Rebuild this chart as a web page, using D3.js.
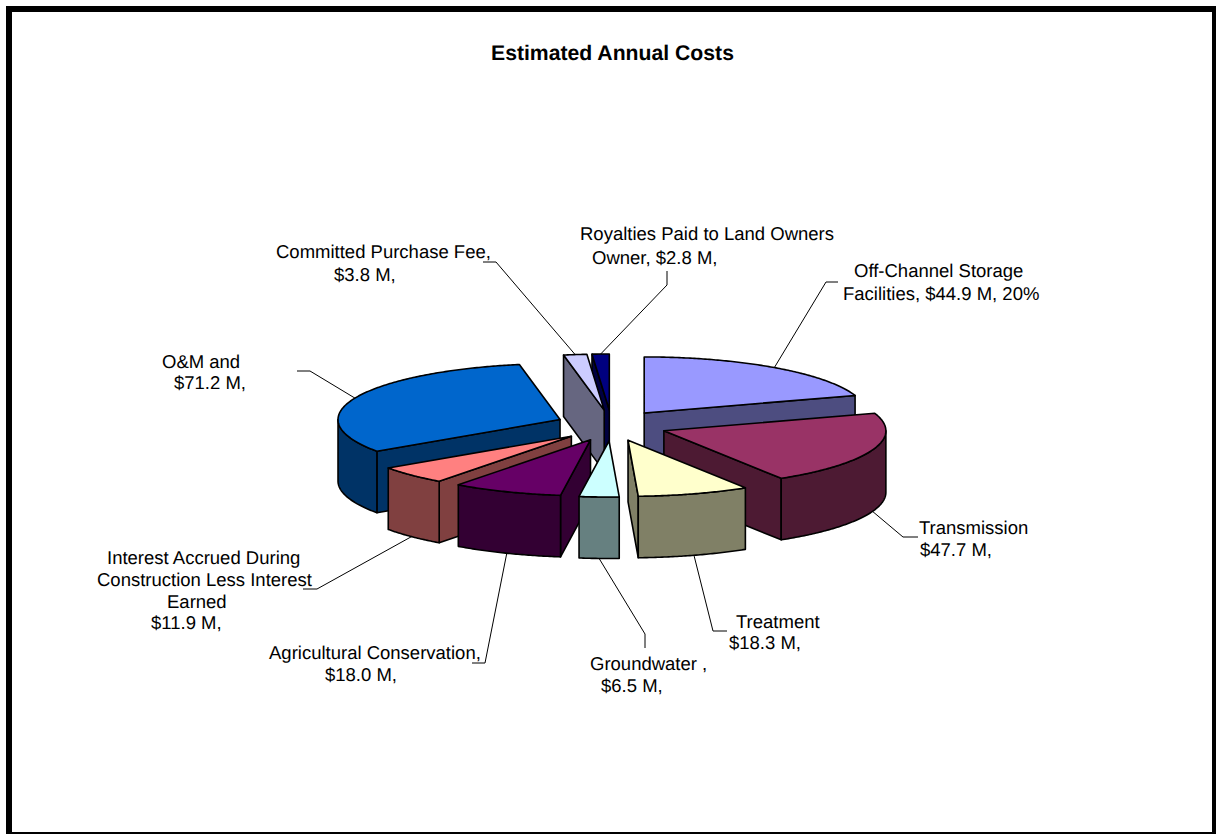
<!DOCTYPE html>
<html>
<head>
<meta charset="utf-8">
<title>Estimated Annual Costs</title>
<script src="https://cdn.jsdelivr.net/npm/d3@7"></script>
<style>
  html, body { margin: 0; padding: 0; background: #fff; overflow: hidden; }
  svg { display: block; }
  text { font-family: "Liberation Sans", Arial, sans-serif; fill: #000; text-rendering: geometricPrecision; }
</style>
</head>
<body>
<svg id="chart" width="1216" height="834"></svg>
<script>
// Annual cost components, in $ millions, clockwise from twelve o'clock
const categories = [
  "Off-Channel Storage", "Transmission", "Treatment", "Groundwater",
  "Agricultural Conservation", "Interest Accrued", "O&M", "Committed Purchase Fee", "Royalties"
];
const costs = [44.9, 47.7, 18.3, 6.5, 18.0, 11.9, 71.2, 3.8, 2.8];

// Label text above the value line
const labelNames = [
  ["Off-Channel Storage", "Facilities, "],
  ["Transmission", ""],
  ["Treatment", ""],
  ["Groundwater ,", ""],
  ["Agricultural Conservation,", ""],
  ["Interest Accrued During", "Construction Less Interest", "Earned", ""],
  ["O&M and", ""],
  ["Committed Purchase Fee,", ""],
  ["Royalties Paid to Land Owners", "Owner, "]
];

// Styling
const topColors  = ["#9999FF", "#993366", "#FFFFCC", "#CCFFFF", "#660066", "#FF8080", "#0066CC", "#CCCCFF", "#000080"];
const wallColors = ["#4D4D80", "#4D1A33", "#808066", "#668080", "#330033", "#804040", "#003366", "#666680", "#000040"];

// Label layout: left edge and baseline for each text line
const labelX = [
  [854, 843], [919, 920], [736, 729], [590, 601], [269, 325],
  [107, 97, 167, 151], [162, 174], [276, 334], [580, 592]
];
const labelY = [
  [277, 300], [534, 556], [628, 649], [670, 692], [659, 681],
  [564, 586, 608, 629], [368, 389], [258, 281], [240, 264]
];
// Leader lines: label end and elbow; the third point comes from the slice
const leaderEnds = [
  [[838, 282], [826, 282]], [[918, 537], [903, 537]], [[727, 631], [713, 631]],
  [[645, 648], [645, 634]], [[472, 663], [485, 663]], [[303, 589], [317, 589]],
  [[297, 371], [310, 371]], [[483, 262], [496, 262]], [[667, 271], [667, 285]]
];

// Painter's order, back to front
const drawOrder = [0, 6, 8, 7, 5, 4, 3, 1, 2];

// Tilted disc: unit-circle coordinates mapped to the screen ellipse
const cx = 611.5, cy = 425.5, rx = 222, ry = 56, depth = 61.5;
const explodeX = 0.251, explodeY = 0.277;
const xScale = d3.scaleLinear().domain([-1, 1]).range([cx - rx, cx + rx]);
const yScale = d3.scaleLinear().domain([-1, 1]).range([cy + ry, cy - ry]);

const slices = d3.pie().sort(null).startAngle(0).endAngle(2 * Math.PI)(costs);
const line = d3.line();
const svg = d3.select("#chart");

// Screen point of a slice at polar (angle, radius), optionally on the bottom face
function pt(s, angle, r, drop = 0) {
  const mid = (s.startAngle + s.endAngle) / 2;
  return [
    xScale(explodeX * Math.sin(mid) + r * Math.sin(angle)),
    yScale(explodeY * Math.cos(mid) + r * Math.cos(angle)) + drop
  ];
}

function arcPoints(s, a0, a1, drop = 0) {
  const n = Math.max(2, Math.ceil((a1 - a0) / 0.01));
  return d3.range(n + 1).map(i => pt(s, a0 + (a1 - a0) * i / n, 1, drop));
}

function radialWall(s, angle) {
  return [pt(s, 0, 0), pt(s, angle, 1), pt(s, angle, 1, depth), pt(s, 0, 0, depth)];
}

// Page frame
svg.append("rect")
  .attr("x", 9).attr("y", 9).attr("width", 1206).attr("height", 826)
  .attr("fill", "#fff").attr("stroke", "#000").attr("stroke-width", 6);

// Title
svg.append("text")
  .attr("x", 491).attr("y", 60)
  .attr("font-size", 21.2).attr("font-weight", "bold")
  .text("Estimated Annual Costs");

// Slices
const faceStyle = sel => sel
  .attr("stroke", "#000").attr("stroke-width", 1.6).attr("stroke-linejoin", "round");

drawOrder.forEach(i => {
  const s = slices[i];
  const g = svg.append("g").attr("class", "slice").attr("data-name", categories[i]);
  const a0 = s.startAngle, a1 = s.endAngle;
  const walls = [];

  // Cut faces turned toward the viewer
  if (Math.sin(a1) > 0) walls.push(radialWall(s, a1));
  if (Math.sin(a0) < 0) walls.push(radialWall(s, a0));

  // Rim, visible only along the front half of the disc
  const f0 = Math.max(a0, Math.PI / 2), f1 = Math.min(a1, 3 * Math.PI / 2);
  if (f1 > f0) walls.push(arcPoints(s, f0, f1).concat(arcPoints(s, f0, f1, depth).reverse()));

  walls.forEach(w => {
    g.append("path").attr("d", line(w) + "Z").attr("fill", wallColors[i]).call(faceStyle);
  });

  g.append("path")
    .attr("d", line([pt(s, 0, 0)].concat(arcPoints(s, a0, a1))) + "Z")
    .attr("fill", topColors[i]).call(faceStyle);
});

// Leader lines run from the middle of each slice's visible edge
slices.forEach((s, i) => {
  const mid = (s.startAngle + s.endAngle) / 2;
  const anchor = pt(s, mid, 1, Math.cos(mid) < 0 ? depth : 0);
  svg.append("path")
    .attr("d", line(leaderEnds[i].concat([anchor])))
    .attr("fill", "none").attr("stroke", "#000").attr("stroke-width", 1);
});

// Data labels; the last line of each carries the value
const money = d3.format("$.1f");
const total = d3.sum(costs);
labelNames.forEach((lines, i) => {
  lines.forEach((txt, j) => {
    let content = txt;
    if (j === lines.length - 1) {
      content += money(costs[i]) + " M,";
      if (i === 0) content += " " + d3.format(".0%")(costs[i] / total);
    }
    svg.append("text")
      .attr("x", labelX[i][j]).attr("y", labelY[i][j])
      .attr("font-size", 18.5)
      .text(content);
  });
});
</script>
</body>
</html>
